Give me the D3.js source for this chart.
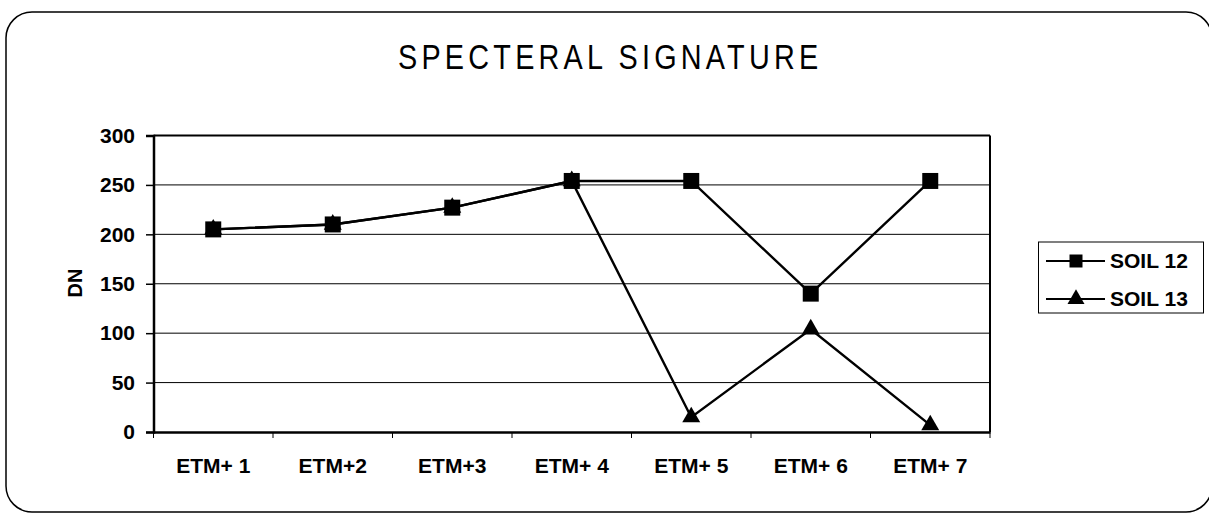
<!DOCTYPE html>
<html><head><meta charset="utf-8">
<script src="https://cdn.jsdelivr.net/npm/d3@7"></script>
<style>body{margin:0;background:#fff}svg{display:block}</style>
</head><body>
<svg id="c" width="1209" height="513"></svg>
<script>
const categories = ["ETM+ 1","ETM+2","ETM+3","ETM+ 4","ETM+ 5","ETM+ 6","ETM+ 7"];
const soil12 = [205, 210, 227, 254, 254, 140, 254];
const soil13 = [205, 210, 227, 254, 15, 104, 7];
const yTicks = [0, 50, 100, 150, 200, 250, 300];
const seriesNames = ["SOIL 12", "SOIL 13"];

const svg = d3.select("#c");
const font = "Liberation Sans, Arial, sans-serif";
svg.append("rect").attr("x",6).attr("y",12).attr("width",1206).attr("height",500)
  .attr("rx",26).attr("fill","#fff").attr("stroke","#000").attr("stroke-width",1.5);

const L=153.5,R=990,T=135.5,B=432;
const x = d3.scaleBand().domain(categories).range([L,R]);
const y = d3.scaleLinear().domain([0,300]).range([B,T]);

const sx = 0.8;
svg.append("text").attr("transform",`scale(${sx},1)`).attr("x",398/sx).attr("y",69)
  .attr("font-family",font).attr("font-size",36).attr("letter-spacing",5.3)
  .text("SPECTERAL SIGNATURE");

// gridlines
svg.append("g").selectAll("line").data(yTicks.filter(d=>d>0)).join("line")
  .attr("x1",L).attr("x2",R).attr("y1",d=>y(d)).attr("y2",d=>y(d))
  .attr("stroke","#000").attr("stroke-width",1);
// plot border
svg.append("line").attr("x1",R).attr("x2",R).attr("y1",T).attr("y2",B).attr("stroke","#000").attr("stroke-width",2);
svg.append("line").attr("x1",L).attr("x2",R).attr("y1",T).attr("y2",T).attr("stroke","#000").attr("stroke-width",2);

// y axis
const ya = svg.append("g").attr("transform",`translate(${L},0)`)
  .call(d3.axisLeft(y).tickValues(yTicks).tickSize(7.5).tickPadding(11));
ya.select(".domain").attr("stroke-width",2.5);
ya.selectAll(".tick line").attr("stroke-width",1.5);
ya.selectAll("text").attr("font-family",font).attr("font-weight","bold").attr("font-size",21).attr("fill","#000");

// x axis
const xa = svg.append("g").attr("transform",`translate(0,${B})`)
  .call(d3.axisBottom(x).tickSize(0).tickPadding(26));
xa.select(".domain").attr("stroke-width",2.5);
xa.selectAll("text").attr("font-family",font).attr("font-weight","bold").attr("font-size",21).attr("fill","#000");
svg.append("g").selectAll("line").data(categories.map(c=>x(c)).concat([R])).join("line")
  .attr("x1",d=>d).attr("x2",d=>d).attr("y1",B).attr("y2",B+6).attr("stroke","#000").attr("stroke-width",1);

svg.append("text").attr("transform","translate(82,283) rotate(-90)").attr("text-anchor","middle")
  .attr("font-family",font).attr("font-weight","bold").attr("font-size",20).text("DN");

const cx = i => x(categories[i]) + x.bandwidth()/2;
const line = d3.line().x((d,i)=>cx(i)).y(d=>y(d));
const sq = d3.symbol().type(d3.symbolSquare).size(256);
const tri = d3.symbol().type(d3.symbolTriangle).size(140);
const sqL = d3.symbol().type(d3.symbolSquare).size(169);
const triL = d3.symbol().type(d3.symbolTriangle).size(125);

svg.append("path").datum(soil13).attr("d",line).attr("fill","none").attr("stroke","#000").attr("stroke-width",2.4);
svg.append("path").datum(soil12).attr("d",line).attr("fill","none").attr("stroke","#000").attr("stroke-width",2.4);
svg.append("g").selectAll("path").data(soil13).join("path")
  .attr("transform",(d,i)=>`translate(${cx(i)},${y(d)})`).attr("d",tri);
svg.append("g").selectAll("path").data(soil12).join("path")
  .attr("transform",(d,i)=>`translate(${cx(i)},${y(d)})`).attr("d",sq);

// legend
svg.append("rect").attr("x",1038.5).attr("y",242).attr("width",165).attr("height",71)
  .attr("fill","#fff").attr("stroke","#000").attr("stroke-width",1);
const syms=[sqL,triL];
seriesNames.forEach((n,i)=>{
  const ly = 261 + i*38;
  svg.append("line").attr("x1",1046).attr("x2",1105).attr("y1",ly).attr("y2",ly).attr("stroke","#000").attr("stroke-width",2);
  svg.append("path").attr("transform",`translate(1076,${ly})`).attr("d",syms[i]);
  svg.append("text").attr("x",1110).attr("y",ly+7).attr("font-family",font).attr("font-weight","bold")
    .attr("font-size",21).text(n);
});
</script>
</body></html>
